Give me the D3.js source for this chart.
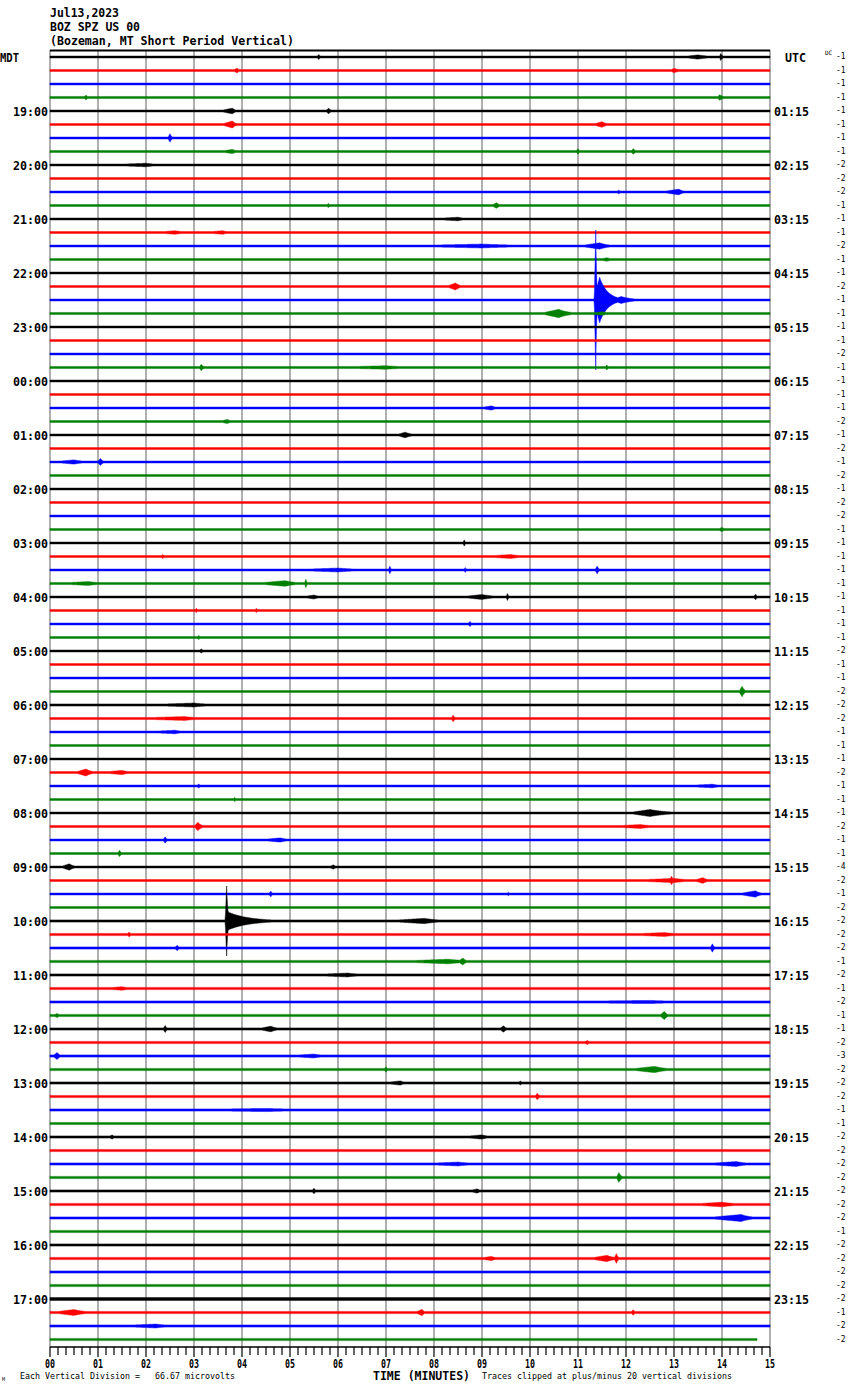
<!DOCTYPE html>
<html><head><meta charset="utf-8">
<script src="https://cdn.jsdelivr.net/npm/d3@7"></script>
<style>html,body{margin:0;padding:0;background:#fff;}svg{display:block;}</style>
</head><body>
<svg id="c" width="850" height="1390"></svg>
<script>
// ---------- DATA ----------
const headerLines = ["Jul13,2023", "BOZ SPZ US 00", "(Bozeman, MT Short Period Vertical)"];
const leftLabels = ["MDT","19:00","20:00","21:00","22:00","23:00","00:00","01:00","02:00","03:00","04:00","05:00",
  "06:00","07:00","08:00","09:00","10:00","11:00","12:00","13:00","14:00","15:00","16:00","17:00"];
const rightLabels = ["UTC","01:15","02:15","03:15","04:15","05:15","06:15","07:15","08:15","09:15","10:15","11:15",
  "12:15","13:15","14:15","15:15","16:15","17:15","18:15","19:15","20:15","21:15","22:15","23:15"];
const minuteLabels = ["00","01","02","03","04","05","06","07","08","09","10","11","12","13","14","15"];
const dcValues = [
 -1,-1,-1,-1, -1,-1,-1,-1, -2,-2,-2,-1, -1,-1,-2,-1, -1,-2,-1,-1, -1,-1,-2,-1,
 -1,-1,-1,-2, -1,-2,-1,-2, -1,-2,-2,-1, -1,-1,-1,-1, -1,-1,-1,-1, -2,-1,-1,-2,
 -2,-2,-1,-1, -1,-2,-1,-1, -1,-2,-1,-1, -4,-2,-1,-2, -2,-2,-2,-1, -2,-1,-2,-1,
 -1,-2,-3,-2, -2,-2,-1,-1, -2,-2,-2,-2, -2,-2,-2,-1, -2,-2,-2,-2, -2,-1,-2,-2];
const traceColors = ["#000000","#ff0000","#0000ff","#008000"];
// background noise level per trace (vertical divisions)
const noise = [
 0.27,0.27,0.27,0.3, 0.27,0.27,0.27,0.3, 0.27,0.27,0.27,0.27, 0.27,0.27,0.27,0.27,
 0.27,0.27,0.27,0.3, 0.27,0.27,0.27,0.3, 0.27,0.27,0.27,0.27, 0.27,0.27,0.27,0.27,
 0.27,0.27,0.27,0.27, 0.27,0.27,0.27,0.3, 0.27,0.27,0.27,0.27, 0.27,0.27,0.27,0.27,
 0.3,0.3,0.27,0.27, 0.27,0.27,0.27,0.27, 0.27,0.3,0.27,0.27, 0.27,0.27,0.27,0.27,
 0.32,0.32,0.32,0.32, 0.32,0.32,0.32,0.32, 0.32,0.32,0.32,0.32, 0.32,0.32,0.32,0.3,
 0.32,0.32,0.32,0.32, 0.32,0.32,0.32,0.32, 0.32,0.32,0.32,0.32, 0.42,0.32,0.32,0.32];
// signal bursts: [trace, start min, peak min, end min, peak amplitude (divisions)]
const events = [
 [0,5.55,5.6,5.7,0.7],[0,13.1,13.5,14.3,0.6],[0,13.95,13.97,14.1,1.0],
 [1,3.8,3.9,4.0,0.7],[1,12.9,13.0,13.4,0.6],
 [3,0.7,0.75,0.85,0.7],[3,13.9,13.95,14.2,0.8],
 [4,3.5,3.8,4.0,0.8],[4,5.75,5.8,5.95,0.8],
 [5,3.55,3.8,4.0,1.0],[5,11.3,11.5,11.8,0.8],
 [6,2.45,2.5,2.6,1.2],
 [7,3.5,3.8,4.1,0.6],[7,10.95,11.0,11.1,0.8],[7,12.1,12.15,12.3,0.8],
 [8,1.0,2.0,2.8,0.5],
 [10,12.7,13.1,13.4,0.8],[10,11.8,11.85,11.95,0.6],
 [11,5.75,5.8,5.9,0.6],[11,9.2,9.3,9.5,0.8],
 [12,7.8,8.5,9.0,0.5],
 [13,2.1,2.6,3.4,0.5],[13,3.1,3.6,4.0,0.5],
 [14,7.0,9.0,11.9,0.55],[14,11.0,11.45,12.0,0.9],
 [15,11.4,11.6,12.0,0.5],
 [17,8.25,8.45,8.7,1.0],
 [18,11.34,11.37,11.42,20],[18,11.33,11.45,11.95,6.5],[18,11.7,11.9,12.6,1.0],
 [19,10.2,10.6,11.2,1.2],[19,11.2,11.5,12.0,0.5],
 [23,3.1,3.15,3.3,0.9],[23,5.5,7.0,8.5,0.5],[23,11.55,11.6,11.7,0.7],
 [26,8.9,9.2,9.5,0.6],
 [27,3.5,3.7,3.9,0.6],
 [28,7.2,7.4,7.8,0.8],
 [30,0.0,0.5,1.2,0.6],[30,0.98,1.05,1.2,1.0],
 [35,13.9,14.0,14.2,0.6],
 [36,8.6,8.63,8.7,0.9],
 [37,8.9,9.6,10.4,0.55],[37,2.3,2.35,2.45,0.6],
 [38,4.8,6.0,7.5,0.55],[38,7.05,7.08,7.15,1.1],[38,11.35,11.4,11.5,1.1],[38,8.62,8.65,8.72,0.7],
 [39,0,0.8,1.7,0.55],[39,4.2,4.9,5.6,0.8],[39,5.3,5.33,5.4,1.2],
 [40,8.5,9.0,9.8,0.7],[40,9.5,9.53,9.6,1.0],[40,5.2,5.5,5.9,0.55],[40,14.65,14.7,14.8,0.8],
 [41,3.0,3.05,3.15,0.6],[41,4.25,4.3,4.4,0.6],
 [42,8.7,8.75,8.85,0.7],
 [43,3.05,3.1,3.2,0.6],
 [44,3.1,3.15,3.3,0.6],
 [47,14.35,14.42,14.55,1.5],
 [48,1.7,3.0,4.2,0.55],
 [49,1.4,2.8,3.8,0.55],[49,8.35,8.4,8.5,0.9],
 [50,1.8,2.6,3.2,0.5],
 [53,0.5,0.75,1.1,1.0],[53,1.0,1.5,2.0,0.6],
 [54,3.05,3.1,3.2,0.6],[54,13.0,13.8,14.4,0.5],
 [55,3.8,3.85,3.95,0.6],
 [56,12.0,12.5,13.6,1.0],
 [57,3.0,3.08,3.3,1.2],[57,11.5,12.3,13.2,0.55],
 [58,2.35,2.4,2.5,0.9],[58,4.3,4.8,5.3,0.6],
 [59,1.4,1.45,1.55,0.9],
 [60,0.2,0.4,0.7,0.9],[60,5.8,5.9,6.1,0.6],
 [61,11.9,13.0,14.0,0.6],[61,12.9,12.95,13.05,1.2],[61,13.4,13.6,13.9,0.8],
 [62,4.55,4.6,4.7,0.8],[62,14.3,14.7,15,0.9],[62,9.5,9.55,9.6,0.5],
 [64,3.65,3.68,3.75,10],[64,3.66,3.72,5.0,2.5],[64,6.9,7.8,8.8,0.75],
 [65,1.6,1.65,1.75,0.7],[65,11.8,12.8,13.8,0.55],
 [66,2.6,2.65,2.75,0.8],[66,13.75,13.8,13.9,1.2],
 [67,7.0,8.3,9.6,0.65],[67,8.5,8.6,8.8,1.0],
 [68,5.2,6.2,7.2,0.55],
 [69,1.0,1.5,2.1,0.5],
 [70,9.5,12.5,15,0.45],
 [71,12.7,12.8,12.95,1.2],[71,0.05,0.15,0.3,0.6],
 [72,2.35,2.4,2.5,1.0],[72,4.3,4.6,5.0,0.8],[72,9.35,9.45,9.6,0.9],
 [73,11.1,11.2,11.3,0.6],
 [74,0.05,0.15,0.3,1.0],[74,4.8,5.5,6.2,0.55],
 [75,12.0,12.6,13.3,0.9],[75,6.95,7.0,7.1,0.8],
 [76,6.9,7.3,7.6,0.6],[76,9.75,9.8,9.9,0.6],
 [77,10.1,10.15,10.3,0.9],
 [78,2.0,4.5,7.5,0.45],
 [80,1.2,1.3,1.4,0.6],[80,8.5,9.0,9.5,0.6],
 [82,7.5,8.5,9.6,0.55],[82,13.5,14.3,15,0.7],
 [83,11.8,11.85,12.0,1.4],
 [84,5.45,5.5,5.6,0.8],[84,8.7,8.9,9.1,0.6],
 [85,13.2,14.0,15,0.65],
 [86,13.6,14.4,15,1.0],
 [89,11.2,11.6,12.1,0.9],[89,11.75,11.8,11.9,1.4],[89,8.9,9.2,9.5,0.6],
 [93,0,0.5,1.2,0.85],[93,7.6,7.75,7.9,0.9],[93,12.1,12.15,12.25,0.8],
 [94,1.2,2.2,3.2,0.55]
];
const lastTraceEnd = 14.73;   // minutes recorded on the final line
const footerLeft = "Each Vertical Division =   66.67 microvolts";
const footerMid = "TIME (MINUTES)";
const footerRight = "Traces clipped at plus/minus 20 vertical divisions";

// ---------- DRAW ----------
const svg = d3.select("#c");
svg.append("rect").attr("width",850).attr("height",1390).attr("fill","#fff");
const nRows = noise.length;
const x = d3.scaleLinear().domain([0,15]).range([50,770]);
const y = d3.scaleLinear().domain([0,nRows-1]).range([57,57+13.5*(nRows-1)]);
const amp = d3.scaleLinear().domain([0,20]).range([0,70]).clamp(true);
const mono = "DejaVu Sans Mono, monospace";
const axisY = 1347;

// grid
svg.append("g").selectAll("line").data(d3.range(0,16)).join("line")
  .attr("x1",d=>x(d)).attr("x2",d=>x(d)).attr("y1",50).attr("y2",axisY)
  .attr("stroke","#858585").attr("stroke-width",1.3);
svg.append("line").attr("x1",x(0)).attr("x2",x(15)).attr("y1",50.5).attr("y2",50.5)
  .attr("stroke","#000").attr("stroke-width",2);

// traces
const gT = svg.append("g");
for (let r=0;r<nRows;r++){
  const end = r===nRows-1 ? lastTraceEnd : 15;
  const ev = events.filter(e=>e[0]===r);
  let ts = d3.range(0,end,1/96); ts.push(end);
  ev.forEach(e=>{ if(e[2]<=end) ts.push(e[2]); });
  ts.sort((a,b)=>a-b);
  const env = t=>{
    let v = noise[r];
    ev.forEach(([,s,p,f,a])=>{
      let e=0;
      if (t>=s && t<=p) e = p>s ? a*(t-s)/(p-s) : a;
      else if (t>p && t<=f) e = a*Math.exp(-3*(t-p)/(f-p));
      if (e>v) v=e;
    });
    return v;
  };
  const pts = ts.map(t=>({t, e:env(t)}));
  const area = d3.area().x(d=>x(d.t)).y0(d=>y(r)-amp(d.e)).y1(d=>y(r)+amp(d.e));
  gT.append("path").attr("d",area(pts))
    .attr("fill",traceColors[r%4]).attr("stroke",traceColors[r%4]).attr("stroke-width",0.5);
}

// header
svg.append("g").selectAll("text").data(headerLines).join("text")
  .attr("x",50).attr("y",(d,i)=>16.5+i*14.2).text(d=>d)
  .attr("font-family",mono).attr("font-weight","bold").attr("font-size",12)
  .attr("textLength",d=>d.length*7-1).attr("lengthAdjust","spacingAndGlyphs");

// left/right labels
svg.append("g").selectAll("text").data(leftLabels).join("text")
  .attr("x",(d,i)=>i===0?0:13).attr("y",(d,i)=>y(i*4)+4.5).text(d=>d)
  .attr("font-family",mono).attr("font-weight","bold").attr("font-size",12)
  .attr("textLength",(d,i)=>i===0?19:35).attr("lengthAdjust","spacingAndGlyphs");
svg.append("g").selectAll("text").data(rightLabels).join("text")
  .attr("x",(d,i)=>i===0?785:774).attr("y",(d,i)=>y(i*4)+4.5).text(d=>d)
  .attr("font-family",mono).attr("font-weight","bold").attr("font-size",12)
  .attr("textLength",(d,i)=>i===0?21:35).attr("lengthAdjust","spacingAndGlyphs");
svg.append("text").attr("x",825).attr("y",55).text("DC")
  .attr("font-family",mono).attr("font-size",6);
svg.append("g").selectAll("text").data(dcValues).join("text")
  .attr("x",836).attr("y",(d,i)=>y(i)+2).text(d=>d)
  .attr("font-family",mono).attr("font-size",8);

// bottom axis
svg.append("line").attr("x1",x(0)).attr("x2",x(15)).attr("y1",axisY).attr("y2",axisY)
  .attr("stroke","#000").attr("stroke-width",1.5);
svg.append("g").selectAll("line").data(d3.range(0,91)).join("line")
  .attr("x1",d=>x(d/6)).attr("x2",d=>x(d/6)).attr("y1",axisY)
  .attr("y2",d=>d%6===0?axisY+10:axisY+8)
  .attr("stroke","#000").attr("stroke-width",1.2);
svg.append("g").selectAll("text").data(minuteLabels).join("text")
  .attr("x",(d,i)=>x(i)).attr("y",1368).attr("text-anchor","middle").text(d=>d)
  .attr("font-family",mono).attr("font-weight","bold").attr("font-size",12)
  .attr("textLength",10).attr("lengthAdjust","spacingAndGlyphs");
svg.append("text").attr("x",373).attr("y",1380).text(footerMid)
  .attr("font-family",mono).attr("font-weight","bold").attr("font-size",12)
  .attr("textLength",97).attr("lengthAdjust","spacingAndGlyphs");
svg.append("text").attr("x",20).attr("y",1379).text(footerLeft)
  .attr("font-family",mono).attr("font-size",8.2).attr("xml:space","preserve")
  .attr("textLength",215).attr("lengthAdjust","spacingAndGlyphs");
svg.append("text").attr("x",482).attr("y",1379).text(footerRight)
  .attr("font-family",mono).attr("font-size",8.2)
  .attr("textLength",250).attr("lengthAdjust","spacingAndGlyphs");
svg.append("text").attr("x",2).attr("y",1381).text("M")
  .attr("font-family",mono).attr("font-size",5);
</script>
</body></html>
